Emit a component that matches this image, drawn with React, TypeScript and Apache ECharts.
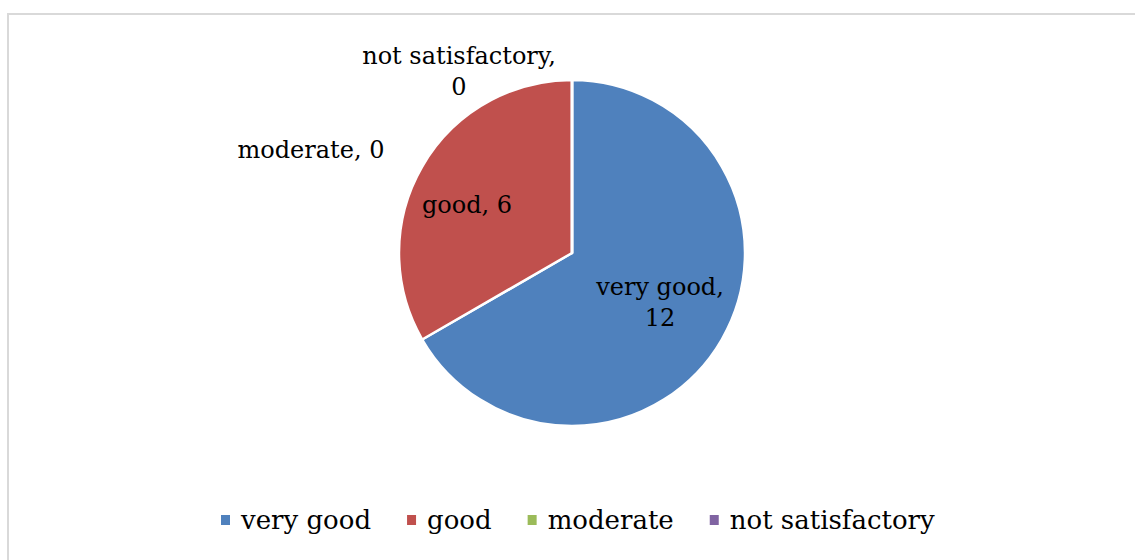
import React, { useEffect, useRef } from "react";
import * as echarts from "echarts";

const categories = ["very good", "good", "moderate", "not satisfactory"];
const values = [12, 6, 0, 0];
const colors = ["#4F81BD", "#C0504D", "#9BBB59", "#8064A2"];
const labelTexts = ["very good,\n12", "good, 6", "moderate, 0", "not satisfactory,\n0"];
const labelPos: [number, number][] = [
  [660, 302],
  [467, 205],
  [311, 150],
  [459, 71],
];

const FONT = "DejaVu Serif";

export default function App() {
  const ref = useRef<HTMLDivElement>(null);
  useEffect(() => {
    document.documentElement.style.overflow = "hidden";
    document.body.style.margin = "0";
    const chart = echarts.init(ref.current!, null, { renderer: "svg" });
    chart.setOption({
      animation: false,
      backgroundColor: "#fff",
      graphic: [
        {
          type: "line",
          shape: { x1: 7, y1: 14, x2: 1200, y2: 14 },
          style: { stroke: "#d9d9d9", lineWidth: 2 },
          silent: true,
        },
        {
          type: "line",
          shape: { x1: 8, y1: 13, x2: 8, y2: 700 },
          style: { stroke: "#d9d9d9", lineWidth: 2 },
          silent: true,
        },
      ],
      legend: {
        bottom: 22,
        left: 214,
        itemWidth: 11,
        itemHeight: 12,
        itemGap: 34,
        icon: "rect",
        textStyle: { fontFamily: FONT, fontSize: 26, color: "#000", padding: [0, 0, 0, 5] },
        data: categories,
      },
      series: [
        {
          type: "pie",
          center: [572, 253],
          radius: 173,
          startAngle: 90,
          clockwise: true,
          avoidLabelOverlap: false,
          stillShowZeroSum: true,
          itemStyle: { borderColor: "#fff", borderWidth: 2.5 },
          label: {
            show: true,
            position: "inside",
            fontFamily: FONT,
            fontSize: 24,
            color: "#000",
            align: "center",
            lineHeight: 31,
            formatter: (p: any) => labelTexts[p.dataIndex],
          },
          labelLine: { show: false },
          labelLayout: (p: any) => ({
            x: labelPos[p.dataIndex][0],
            y: labelPos[p.dataIndex][1],
            align: "center",
            verticalAlign: "middle",
          }),
          data: categories.map((c, i) => ({
            name: c,
            value: values[i],
            itemStyle: { color: colors[i] },
          })),
        },
      ],
    });
    return () => chart.dispose();
  }, []);
  return <div ref={ref} style={{ width: 1135, height: 560 }} />;
}
